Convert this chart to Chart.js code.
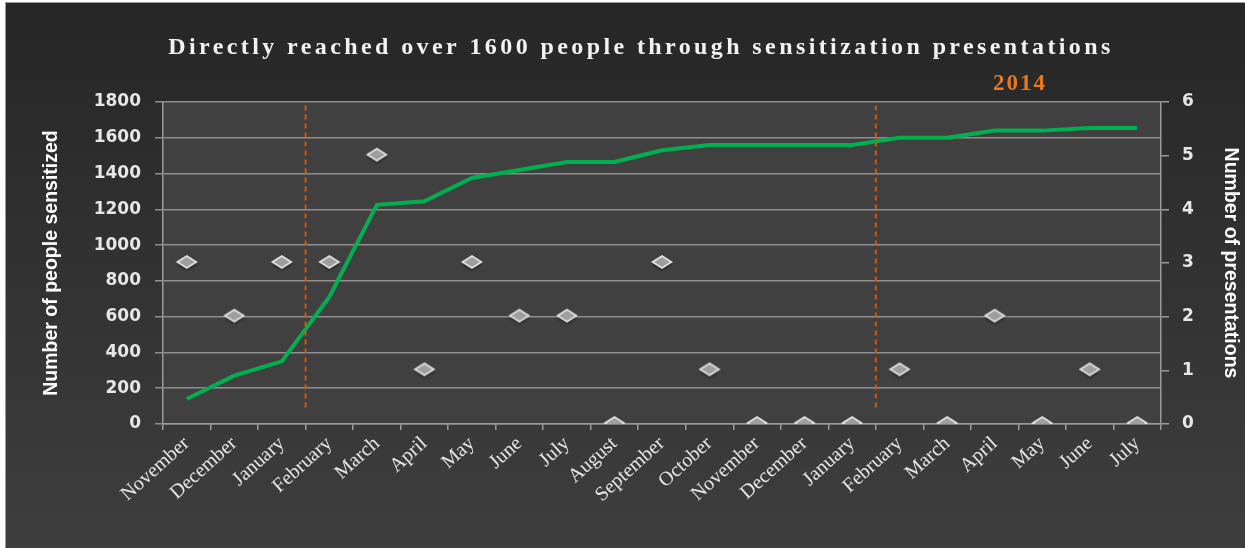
<!DOCTYPE html>
<html>
<head>
<meta charset="utf-8">
<script src="https://cdn.jsdelivr.net/npm/chart.js@4/dist/chart.umd.min.js"></script>
<style>
    html, body { margin: 0; padding: 0; background: #ffffff; }
    #wrap {
        position: absolute; left: 5px; top: 2px;
        width: 1240px; height: 546px;
        border-left: 1px solid #9a9a9a; border-top: 1px solid #9a9a9a;
        box-sizing: border-box;
    }
</style>
</head>
<body>
<div id="wrap"><canvas id="reachChart"></canvas></div>
<script>
// months from November 2012 to July 2014
const months = ['November', 'December', 'January', 'February', 'March', 'April', 'May', 'June', 'July',
    'August', 'September', 'October', 'November', 'December', 'January', 'February', 'March', 'April',
    'May', 'June', 'July'];
// cumulative people sensitized (left axis)
const peopleReached = [140, 270, 350, 710, 1225, 1245, 1375, 1420, 1465, 1465, 1530, 1560, 1560, 1560,
    1560, 1600, 1600, 1640, 1640, 1655, 1655];
// presentations per month (right axis)
const presentations = [3, 2, 3, 3, 5, 1, 3, 2, 2, 0, 3, 1, 0, 0, 0, 1, 0, 2, 0, 1, 0];
// year boundaries drawn as dashed lines (between these category indexes)
const yearBreaks = [[2, 3], [14, 15]];
const yearLabel = '2014';
const chartTitle = 'Directly reached over 1600 people through sensitization presentations';

// flat diamond marker with a soft shadow, used as the point style
function diamondMarker() {
    const c = document.createElement('canvas');
    c.width = 28; c.height = 22;
    const ctx = c.getContext('2d');
    ctx.shadowColor = 'rgba(0,0,0,0.6)';
    ctx.shadowBlur = 3;
    ctx.shadowOffsetY = 2;
    ctx.beginPath();
    ctx.moveTo(4.5, 10);
    ctx.lineTo(14, 4);
    ctx.lineTo(23.5, 10);
    ctx.lineTo(14, 16);
    ctx.closePath();
    ctx.fillStyle = '#9e9e9e';
    ctx.fill();
    ctx.shadowColor = 'transparent';
    ctx.lineWidth = 1.6;
    ctx.strokeStyle = '#e4e4e4';
    ctx.stroke();
    return c;
}

const backdrop = {
    id: 'backdrop',
    beforeDraw(chart) {
        const { ctx, width, height, chartArea: a } = chart;
        ctx.save();
        const g = ctx.createLinearGradient(0, 0, 0, height);
        g.addColorStop(0, '#262626');
        g.addColorStop(1, '#3e3e3e');
        ctx.fillStyle = g;
        ctx.fillRect(0, 0, width, height);
        ctx.fillStyle = '#404040';
        ctx.fillRect(a.left, a.top, a.right - a.left, a.bottom - a.top);
        ctx.restore();
    },
    afterDatasetsDraw(chart) {
        const { ctx } = chart;
        const x = chart.scales.x, y = chart.scales.y;
        ctx.save();
        ctx.strokeStyle = '#c55a11';
        ctx.lineWidth = 2;
        ctx.setLineDash([5, 4]);
        yearBreaks.forEach(([i, j]) => {
            const px = (x.getPixelForValue(i) + x.getPixelForValue(j)) / 2;
            ctx.beginPath();
            ctx.moveTo(px, y.getPixelForValue(1780));
            ctx.lineTo(px, y.getPixelForValue(75));
            ctx.stroke();
        });
        ctx.restore();
    },
    afterDraw(chart) {
        const { ctx } = chart;
        ctx.save();
        ctx.textAlign = 'center';
        ctx.textBaseline = 'alphabetic';
        ctx.fillStyle = '#f2f2f2';
        ctx.font = 'bold 24px "Liberation Serif", serif';
        ctx.letterSpacing = '3.4px';
        ctx.fillText(chartTitle, 635, 51);
        ctx.fillStyle = '#e87722';
        ctx.font = 'bold 23px "Liberation Serif", serif';
        ctx.letterSpacing = '2px';
        ctx.fillText(yearLabel, 1014, 87);
        ctx.restore();
    }
};

const tickFont = { family: '"DejaVu Sans", sans-serif', size: 17, weight: 'bold' };
const axisTitleFont = { family: '"Liberation Sans", Arial, sans-serif', size: 19.5, weight: 'bold' };

new Chart(document.getElementById('reachChart'), {
    type: 'line',
    data: {
        labels: months,
        datasets: [{
            label: 'People sensitized',
            data: peopleReached,
            yAxisID: 'y',
            borderColor: '#00b050',
            borderWidth: 4,
            pointRadius: 0,
            tension: 0,
            order: 2
        }, {
            label: 'Presentations',
            data: presentations,
            yAxisID: 'y1',
            showLine: false,
            pointStyle: diamondMarker(),
            pointRadius: 10,
            order: 1
        }]
    },
    options: {
        responsive: true,
        maintainAspectRatio: false,
        animation: false,
        layout: { padding: { top: 99, right: 0, bottom: 0, left: 0 } },
        plugins: {
            legend: { display: false },
            tooltip: { enabled: false }
        },
        scales: {
            x: {
                offset: true,
                grid: { offset: true, drawOnChartArea: false, drawTicks: true, tickLength: 6, color: '#9a9a9a', lineWidth: 1.5 },
                border: { color: '#9a9a9a', width: 1.5 },
                ticks: {
                    color: '#e6e6e6',
                    font: { family: '"Liberation Serif", serif', size: 20 },
                    maxRotation: 42,
                    minRotation: 42,
                    autoSkip: false,
                    padding: 2
                },
                afterFit(s) { s.height = 124; }
            },
            y: {
                position: 'left',
                min: 0,
                max: 1800,
                ticks: { stepSize: 200, color: '#e6e6e6', font: tickFont, padding: 14, callback: v => String(v) },
                grid: { color: '#8e8e8e', lineWidth: 1.5, tickLength: 8 },
                border: { color: '#9a9a9a', width: 1.5 },
                title: { display: true, text: 'Number of people sensitized', color: '#ffffff', font: axisTitleFont, padding: { top: 34, bottom: 0 } },
                afterFit(s) { s.width = 157; }
            },
            y1: {
                position: 'right',
                min: 0,
                max: 6,
                ticks: { stepSize: 1, color: '#e6e6e6', font: tickFont, padding: 13 },
                grid: { drawOnChartArea: false, color: '#9a9a9a', lineWidth: 1.5, tickLength: 8 },
                border: { color: '#9a9a9a', width: 1.5 },
                title: { display: true, text: 'Number of presentations', color: '#ffffff', font: axisTitleFont, padding: { top: 3, bottom: 0 } },
                afterFit(s) { s.width = 84; }
            }
        }
    },
    plugins: [backdrop]
});
</script>
</body>
</html>
